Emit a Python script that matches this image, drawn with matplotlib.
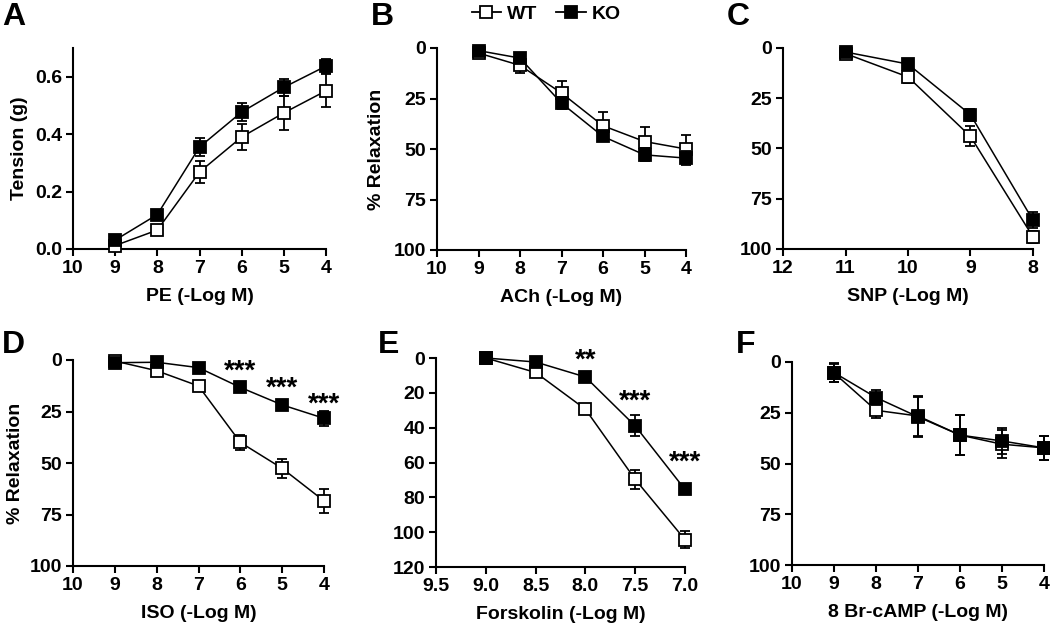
import matplotlib
matplotlib.use("Agg")
import matplotlib.pyplot as plt
from matplotlib.lines import Line2D

plt.rcParams['font.family'] = ['Liberation Sans', 'DejaVu Sans']
plt.rcParams['font.weight'] = 'bold'

# ---------------- data ----------------
pe_x = [9, 8, 7, 6, 5, 4]
pe_wt = [0.012, 0.066, 0.268, 0.39, 0.474, 0.551]
pe_wt_err = [0.006, 0.008, 0.038, 0.045, 0.058, 0.057]
pe_ko = [0.031, 0.12, 0.355, 0.477, 0.563, 0.637]
pe_ko_err = [0.008, 0.012, 0.032, 0.032, 0.03, 0.025]

ach_x = [9, 8, 7, 6, 5, 4]
ach_wt = [2.5, 8.6, 22.3, 38.5, 46.3, 50.0]
ach_wt_err = [1.0, 4.0, 6.0, 7.0, 7.0, 7.0]
ach_ko = [1.3, 5.0, 27.3, 43.8, 52.9, 54.5]
ach_ko_err = [1.0, 1.5, 3.0, 2.0, 3.2, 3.5]

snp_x = [11, 10, 9, 8]
snp_wt = [2.8, 14.4, 44.0, 94.0]
snp_wt_err = [1.0, 3.0, 5.0, 3.0]
snp_ko = [2.0, 8.0, 33.2, 85.7]
snp_ko_err = [1.0, 1.5, 3.0, 4.0]

iso_x = [9, 8, 7, 6, 5, 4]
iso_wt = [0.5, 5.2, 12.6, 40.0, 52.6, 68.4]
iso_wt_err = [0.8, 1.0, 1.2, 3.6, 4.7, 5.8]
iso_ko = [1.3, 1.1, 3.7, 13.3, 21.8, 28.3]
iso_ko_err = [0.8, 0.8, 1.0, 1.5, 2.0, 3.7]
iso_sig_x = [6, 5, 4]
iso_sig_y = [5.5, 14.0, 21.5]
iso_sig = ['***', '***', '***']

fsk_x = [9.0, 8.5, 8.0, 7.5, 7.0]
fsk_wt = [0.0, 8.3, 29.4, 69.7, 104.3]
fsk_wt_err = [0.8, 1.5, 2.0, 5.3, 4.7]
fsk_ko = [0.0, 2.3, 10.9, 39.0, 75.5]
fsk_ko_err = [0.8, 1.0, 1.5, 6.0, 1.5]
fsk_sig_x = [8.0, 7.5, 7.0]
fsk_sig_y = [1.5, 25.0, 60.0]
fsk_sig = ['**', '***', '***']

cam_x = [9, 8, 7, 6, 5, 4]
cam_wt = [5.4, 23.8, 26.6, 36.0, 40.5, 42.3]
cam_wt_err = [4.5, 3.8, 9.8, 9.8, 7.0, 6.0]
cam_ko = [5.2, 17.5, 27.0, 36.0, 38.9, 42.3]
cam_ko_err = [4.5, 3.6, 9.8, 9.8, 6.6, 6.0]

# ---------------- figure ----------------
W, H = 1050, 633
fig = plt.figure(figsize=(W / 100, H / 100), dpi=100)


def make_ax(l, t, r, b):
    return fig.add_axes([l / W, 1 - b / H, (r - l) / W, (b - t) / H])


def style(ax):
    for s in ['top', 'right']:
        ax.spines[s].set_visible(False)
    for s in ['left', 'bottom']:
        ax.spines[s].set_linewidth(1.5)
    ax.tick_params(width=1.5, length=5, labelsize=14, pad=3)
    for lbl in ax.get_xticklabels() + ax.get_yticklabels():
        lbl.set_fontweight('bold')


def plot_pair(ax, x, wt, wte, ko, koe):
    ax.errorbar(x, wt, yerr=wte, fmt='-s', color='black', mfc='white', mec='black',
                ms=8, mew=1.3, lw=1.1, elinewidth=1.3, capsize=3.5, capthick=1.3,
                clip_on=False, zorder=3)
    ax.errorbar(x, ko, yerr=koe, fmt='-s', color='black', mfc='black', mec='black',
                ms=8, mew=1.3, lw=1.1, elinewidth=1.3, capsize=3.5, capthick=1.3,
                clip_on=False, zorder=4)


# A
axA = make_ax(73, 48, 326, 249)
plot_pair(axA, pe_x, pe_wt, pe_wt_err, pe_ko, pe_ko_err)
axA.set_xlim(10, 4)
axA.set_ylim(0, 0.7)
axA.set_xticks([10, 9, 8, 7, 6, 5, 4])
axA.set_yticks([0.0, 0.2, 0.4, 0.6])
axA.set_yticklabels(['0.0', '0.2', '0.4', '0.6'])
axA.set_xlabel('PE (-Log M)', fontsize=14, fontweight='bold', labelpad=8)
axA.set_ylabel('Tension (g)', fontsize=14, fontweight='bold', labelpad=5)
style(axA)

# B
axB = make_ax(437, 48, 686, 250)
plot_pair(axB, ach_x, ach_wt, ach_wt_err, ach_ko, ach_ko_err)
axB.set_xlim(10, 4)
axB.set_ylim(100, 0)
axB.set_xticks([10, 9, 8, 7, 6, 5, 4])
axB.set_yticks([0, 25, 50, 75, 100])
axB.set_xlabel('ACh (-Log M)', fontsize=14, fontweight='bold', labelpad=8)
axB.set_ylabel('% Relaxation', fontsize=14, fontweight='bold', labelpad=6)
style(axB)

# C
axC = make_ax(783, 48, 1033, 249)
plot_pair(axC, snp_x, snp_wt, snp_wt_err, snp_ko, snp_ko_err)
axC.set_xlim(12, 8)
axC.set_ylim(100, 0)
axC.set_xticks([12, 11, 10, 9, 8])
axC.set_yticks([0, 25, 50, 75, 100])
axC.set_xlabel('SNP (-Log M)', fontsize=14, fontweight='bold', labelpad=8)
style(axC)

# D
axD = make_ax(73, 360, 324, 566)
plot_pair(axD, iso_x, iso_wt, iso_wt_err, iso_ko, iso_ko_err)
axD.set_xlim(10, 4)
axD.set_ylim(100, 0)
axD.set_xticks([10, 9, 8, 7, 6, 5, 4])
axD.set_yticks([0, 25, 50, 75, 100])
axD.set_xlabel('ISO (-Log M)', fontsize=14, fontweight='bold', labelpad=8)
axD.set_ylabel('% Relaxation', fontsize=14, fontweight='bold', labelpad=4)
for sx, sy, st in zip(iso_sig_x, iso_sig_y, iso_sig):
    axD.text(sx, sy, st, ha='center', va='center', fontsize=20, fontweight='bold',
             clip_on=False)
style(axD)

# E
axE = make_ax(436, 358, 685, 567)
plot_pair(axE, fsk_x, fsk_wt, fsk_wt_err, fsk_ko, fsk_ko_err)
axE.set_xlim(9.5, 7.0)
axE.set_ylim(120, 0)
axE.set_xticks([9.5, 9.0, 8.5, 8.0, 7.5, 7.0])
axE.set_xticklabels(['9.5', '9.0', '8.5', '8.0', '7.5', '7.0'])
axE.set_yticks([0, 20, 40, 60, 80, 100, 120])
axE.set_xlabel('Forskolin (-Log M)', fontsize=14, fontweight='bold', labelpad=8)
for sx, sy, st in zip(fsk_sig_x, fsk_sig_y, fsk_sig):
    axE.text(sx, sy, st, ha='center', va='center', fontsize=20, fontweight='bold',
             clip_on=False)
style(axE)

# F
axF = make_ax(792, 362, 1044, 565)
plot_pair(axF, cam_x, cam_wt, cam_wt_err, cam_ko, cam_ko_err)
axF.set_xlim(10, 4)
axF.set_ylim(100, 0)
axF.set_xticks([10, 9, 8, 7, 6, 5, 4])
axF.set_yticks([0, 25, 50, 75, 100])
axF.set_xlabel('8 Br-cAMP (-Log M)', fontsize=14, fontweight='bold', labelpad=8)
style(axF)

# panel letters
for lx, ly, letter in [(2, 17, 'A'), (371, 17, 'B'), (727, 17, 'C'),
                       (2, 345, 'D'), (378, 345, 'E'), (736, 345, 'F')]:
    fig.text(lx / W, 1 - ly / H, letter, fontsize=23, fontweight='bold',
             ha='left', va='center')

# legend
handles = [Line2D([], [], color='black', marker='s', mfc='white', mec='black', ms=8, mew=1.3, lw=1.3),
           Line2D([], [], color='black', marker='s', mfc='black', mec='black', ms=8, mew=1.3, lw=1.3)]
fig.legend(handles, ['WT', 'KO'], loc='center', bbox_to_anchor=(546 / W, 1 - 14 / H),
           ncol=2, frameon=False, handlelength=1.5, handletextpad=0.3,
           columnspacing=1.0, prop={'weight': 'bold', 'size': 14})

fig.savefig('out.png', dpi=100)
